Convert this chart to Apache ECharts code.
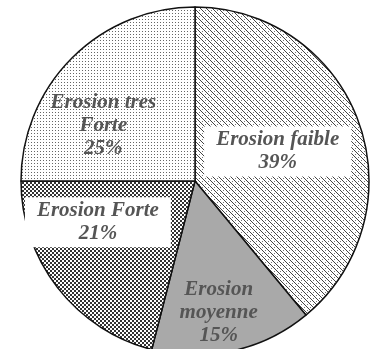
<!DOCTYPE html>
<html>
<head>
<meta charset="utf-8">
<script src="https://cdn.jsdelivr.net/npm/echarts@6/dist/echarts.min.js"></script>
<style>
  html, body { margin: 0; padding: 0; background: #fff; }
  #chart { width: 370px; height: 349px; }
</style>
</head>
<body>
<div id="chart"></div>
<script>
var categories = ['Erosion faible', 'Erosion moyenne', 'Erosion Forte', 'Erosion tres Forte'];
var labelText = ['Erosion faible', 'Erosion\nmoyenne', 'Erosion Forte', 'Erosion tres\nForte'];
var values = [39, 15, 21, 25];

(function() {
  function makePattern(size, draw) {
    var c = document.createElement('canvas');
    c.width = size; c.height = size;
    var g = c.getContext('2d');
    g.fillStyle = '#fff';
    g.fillRect(0, 0, size, size);
    draw(g);
    return { image: c, repeat: 'repeat' };
  }

  // crosshatch for "faible"
  var hatch = makePattern(6, function(g) {
    g.fillStyle = '#444';
    for (var i = 0; i < 6; i++) {
      g.fillRect(i, i, 1, 1);
    }
    g.fillStyle = '#777';
    g.fillRect(4, 1, 1, 1);
    g.fillRect(1, 4, 1, 1);
  });

  // sparse dots for "tres Forte"
  var sparse = makePattern(3, function(g) {
    g.fillStyle = '#666';
    g.fillRect(1, 1, 1, 1);
  });

  // dense dots for "Forte"
  var dense = makePattern(4, function(g) {
    g.fillStyle = '#333';
    g.fillRect(0, 0, 2, 2);
    g.fillRect(2, 2, 2, 2);
  });

  var fills = [hatch, '#a9a9a9', dense, sparse];
  var boxed = [true, false, true, false];
  var shift = [[-2, 1], [4, 44], [-26, -14], [-28, 8]];

  var chart = echarts.init(document.getElementById('chart'), null, { renderer: 'canvas' });
  chart.setOption({
    animation: false,
    series: [{
      type: 'pie',
      center: [195, 181],
      radius: 174,
      startAngle: 90,
      clockwise: true,
      avoidLabelOverlap: false,
      itemStyle: { borderColor: '#111', borderWidth: 1.5 },
      label: {
        show: true,
        position: 'inside',
        fontFamily: 'Liberation Serif',
        fontStyle: 'italic',
        fontWeight: 'bold',
        fontSize: 21,
        lineHeight: 23,
        color: '#555'
      },
      labelLine: { show: false },
      labelLayout: function(p) {
        return { dx: shift[p.dataIndex][0], dy: shift[p.dataIndex][1] };
      },
      data: categories.map(function(name, i) {
        var item = {
          name: name,
          value: values[i],
          itemStyle: { color: fills[i] },
          label: {
            formatter: labelText[i] + '\n' + values[i] + '%'
          }
        };
        if (boxed[i]) {
          item.label.backgroundColor = '#fff';
          item.label.padding = [2, 12, 2, 12];
        }
        return item;
      })
    }]
  });
})();
</script>
</body>
</html>
